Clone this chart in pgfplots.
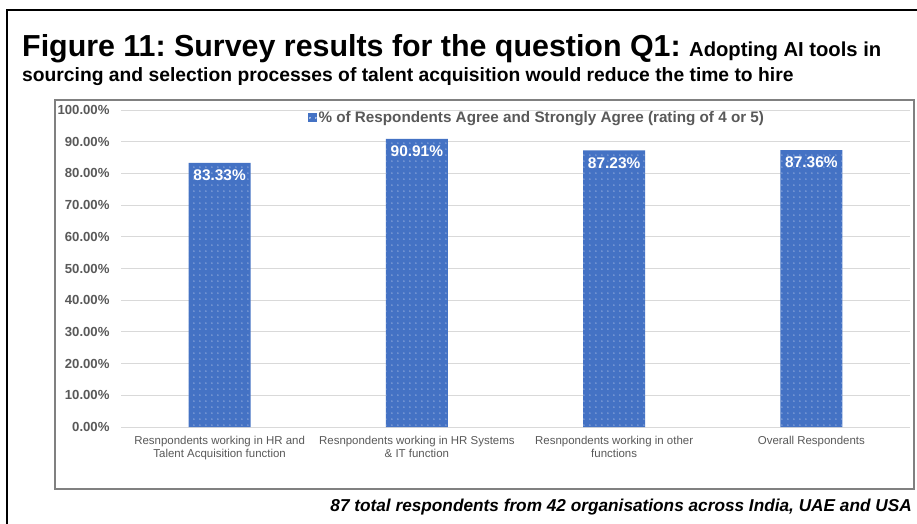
\documentclass[border=0pt]{standalone}
\usepackage{pgfplots}
\pgfplotsset{compat=1.18}
\usepackage{fontspec}
\setmainfont{Liberation Sans}
\usetikzlibrary{patterns.meta}
\definecolor{barblue}{HTML}{4472C4}
\definecolor{txtgray}{HTML}{595959}
\definecolor{gridgray}{HTML}{D9D9D9}
\definecolor{framegray}{HTML}{808080}
\tikzdeclarepattern{name=wdots, type=uncolored,
  bottom left={(0bp,0bp)}, top right={(6.4bp,6.4bp)}, tile size={(6.4bp,6.4bp)},
  code={\pgfpathcircle{\pgfpoint{3.2bp}{3.2bp}}{0.6bp}\pgfusepath{fill}}}
\begin{document}
\frenchspacing
\begin{tikzpicture}[x=1bp,y=1bp]
\path[use as bounding box] (0,0) rectangle (917,-524);
\fill[white] (0,0) rectangle (917,-524);
\draw[black, line width=2bp] (7,-524) -- (7,-10) -- (918,-10);
\draw[framegray, line width=1.3bp] (55,-100) rectangle (914,-489);
\node[anchor=base west, inner sep=0] at (22,-56.5) {\fontsize{30.5}{34}\selectfont\bfseries Figure 11: Survey results for the question Q1: \fontsize{20.3}{23}\selectfont Adopting AI tools in};
\node[anchor=base west, inner sep=0] at (22,-82) {\fontsize{19.35}{22}\selectfont\bfseries sourcing and selection processes of talent acquisition would reduce the time to hire};
\node[anchor=base east, inner sep=0] at (912,-511) {\fontsize{17.3}{20}\selectfont\bfseries\itshape 87 total respondents from 42 organisations across India, UAE and USA};
\begin{axis}[
  at={(121bp,-427bp)}, anchor=south west,
  scale only axis, width=789bp, height=317bp,
  xmin=-0.5, xmax=3.5, ymin=0, ymax=100,
  axis line style={draw=none},
  ytick={0,10,...,100},
  ymajorgrids, grid style={gridgray, line width=0.9bp},
  major tick length=0pt,
  yticklabel={\pgfmathprintnumber[fixed,fixed zerofill,precision=2]{\tick}\%},
  /pgf/number format/assume math mode=true,
  yticklabel style={font=\fontsize{13.2}{15}\selectfont\bfseries, text=txtgray, xshift=-8bp},
  xtick={0,1,2,3},
  xticklabels={{Resnpondents working in HR and\\Talent Acquisition function},{Resnpondents working in HR Systems\\\& IT function},{Resnpondents working in other\\functions},{Overall Respondents}},
  xticklabel style={font=\fontsize{11.5}{13}\selectfont, text=txtgray, align=center, anchor=north, yshift=-6bp},
  legend style={at={(0.527,0.975)}, anchor=center, draw=none, fill=none, font=\fontsize{15.3}{17}\selectfont\bfseries, text=txtgray, inner sep=0pt},
  legend image code/.code={\fill[barblue] (0bp,-4.5bp) rectangle (9bp,4.5bp); \fill[pattern={wdots}, pattern color=white] (0bp,-4.5bp) rectangle (9bp,4.5bp);},
  nodes near coords={\pgfmathprintnumber[fixed,fixed zerofill,precision=2]{\pgfplotspointmeta}\%},
  nodes near coords style={anchor=north, yshift=-3.5bp, text=white, font=\fontsize{15.5}{17}\selectfont\bfseries, /pgf/number format/assume math mode=true},
  clip=false,
]
\addplot[ybar, bar width=62bp, draw=none, fill=barblue, postaction={pattern={wdots}, pattern color=white}]
 coordinates {(0,83.33) (1,90.91) (2,87.23) (3,87.36)};
\addlegendentry{\% of Respondents Agree and Strongly Agree (rating of 4 or 5)}
\end{axis}
\end{tikzpicture}
\end{document}
